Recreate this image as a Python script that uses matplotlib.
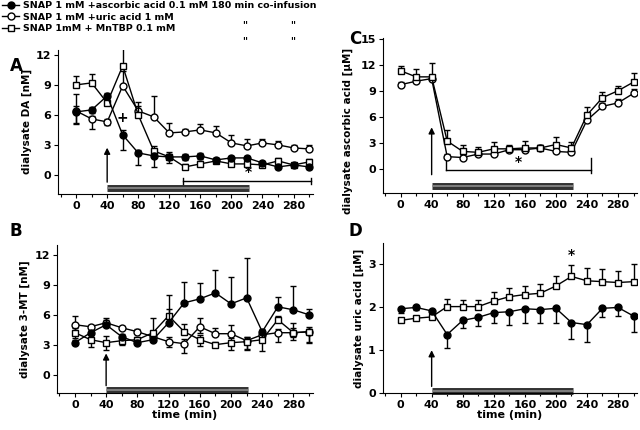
import matplotlib
matplotlib.use('Agg')
import matplotlib.pyplot as plt
import numpy as np

plt.rcParams['font.family'] = ['DejaVu Sans']
plt.rcParams['font.weight'] = 'bold'

t = [0, 20, 40, 60, 80, 100, 120, 140, 160, 180, 200, 220, 240, 260, 280, 300]
labels = ['SNAP 1 mM +ascorbic acid 0.1 mM 180 min co-infusion',
          'SNAP 1 mM +uric acid 1 mM',
          'SNAP 1mM + MnTBP 0.1 mM']

# panel A: dialysate DA [nM]
a_asc = [6.3, 6.5, 7.9, 4.0, 2.2, 1.9, 1.8, 1.8, 1.9, 1.5, 1.7, 1.7, 1.2, 0.8, 1.0, 0.8]
a_asc_up = [1.8, 0.3, 0.3, 0.5, 0.3, 0.3, 0.3, 0.3, 0.3, 0.2, 0.2, 0.2, 0.2, 0.2, 0.2, 0.2]
a_asc_dn = [1.2, 0.3, 0.3, 1.5, 1.2, 1.1, 0.6, 0.3, 0.3, 0.2, 0.2, 0.2, 0.2, 0.2, 0.2, 0.2]
a_uric = [6.4, 5.6, 5.3, 8.9, 6.4, 5.8, 4.2, 4.3, 4.5, 4.2, 3.2, 2.9, 3.2, 3.0, 2.7, 2.6]
a_uric_up = [0.5, 0.3, 0.3, 1.5, 0.5, 2.1, 1.0, 0.3, 0.6, 0.7, 0.8, 0.7, 0.4, 0.4, 0.3, 0.4]
a_uric_dn = [1.2, 1.0, 0.3, 0, 0, 0, 0, 0, 0, 0, 0, 0, 0, 0, 0, 0]
a_mn = [9.0, 9.2, 7.2, 10.9, 6.0, 2.4, 1.8, 0.8, 1.1, 1.4, 1.1, 1.1, 1.0, 1.4, 1.0, 1.3]
a_mn_up = [0.9, 0.9, 0.8, 1.9, 1.3, 0.5, 0.5, 0.3, 0.3, 0.3, 0.3, 0.3, 0.2, 0.3, 0.2, 0.3]

# panel B: dialysate 3-MT [nM]
b_asc = [3.2, 4.2, 5.0, 3.8, 3.2, 3.5, 5.2, 7.2, 7.6, 8.2, 7.1, 7.7, 4.3, 6.8, 6.5, 6.0]
b_asc_up = [0.3, 0.3, 0.5, 0.3, 0.3, 0.3, 2.8, 2.1, 1.6, 2.3, 2.7, 4.0, 0.3, 1.0, 2.4, 0.6]
b_uric = [5.0, 4.8, 5.2, 4.7, 4.3, 3.8, 3.3, 3.1, 4.8, 4.1, 4.1, 3.4, 4.0, 4.2, 4.2, 4.3]
b_uric_up = [0.9, 0.2, 0.5, 0.2, 0.3, 0.3, 0.5, 0.5, 0.9, 0.6, 0.9, 0.4, 0.3, 0.4, 1.0, 0.3]
b_uric_dn = [0, 0, 0, 0, 0, 0, 0.5, 0.9, 0.6, 0, 0, 0.8, 0, 0.9, 0.7, 1.0]
b_mn = [4.2, 3.5, 3.2, 3.4, 3.5, 4.2, 5.9, 4.3, 3.5, 3.0, 3.2, 3.3, 3.5, 5.5, 4.2, 4.3]
b_mn_up = [0.5, 0.3, 0.7, 0.3, 0.3, 1.5, 0.7, 0.8, 0.5, 0.3, 0.5, 0.5, 0.6, 0.4, 0.5, 0.5]
b_mn_dn = [0.5, 0.7, 0.7, 0.4, 0.3, 0.3, 0, 0, 0.6, 0.2, 0.7, 0.8, 1.1, 0, 0.4, 1.1]

# panel C: dialysate ascorbic acid [uM]
c_uric = [9.7, 10.1, 10.4, 1.4, 1.3, 1.7, 1.7, 2.2, 2.2, 2.4, 2.0, 1.9, 5.6, 7.2, 7.6, 8.7]
c_uric_up = [0.3, 0.3, 0.3, 0.3, 0.3, 0.3, 0.3, 0.3, 0.3, 0.3, 0.3, 0.3, 0.5, 0.4, 0.5, 0.5]
c_mn = [11.3, 10.6, 10.6, 3.2, 2.0, 1.9, 2.3, 2.3, 2.4, 2.4, 2.8, 2.4, 6.2, 8.2, 9.0, 10.0]
c_mn_up = [0.5, 0.9, 1.6, 1.3, 0.8, 0.6, 0.8, 0.4, 0.8, 0.4, 0.9, 0.7, 0.9, 0.7, 0.5, 1.0]

# panel D: dialysate uric acid [uM]
d_asc = [1.97, 2.0, 1.92, 1.37, 1.7, 1.77, 1.88, 1.9, 1.97, 1.95, 1.98, 1.65, 1.6, 1.98, 2.0, 1.8]
d_asc_dn = [0.1, 0.05, 0.05, 0.32, 0.18, 0.2, 0.25, 0.3, 0.32, 0.3, 0.33, 0.38, 0.4, 0.2, 0.2, 0.37]
d_mn = [1.7, 1.75, 1.78, 2.02, 2.02, 2.02, 2.15, 2.25, 2.3, 2.33, 2.5, 2.72, 2.62, 2.6, 2.58, 2.6]
d_mn_up = [0.05, 0.05, 0.15, 0.18, 0.15, 0.15, 0.2, 0.2, 0.2, 0.22, 0.22, 0.27, 0.3, 0.3, 0.27, 0.4]

zero = [0] * len(t)
styles = {'asc': dict(marker='o', mfc='black'),
          'uric': dict(marker='o', mfc='white'),
          'mn': dict(marker='s', mfc='white')}


def series(ax, y, kind, up=zero, dn=zero, z=3):
    st = styles[kind]
    ax.errorbar(t, y, yerr=[dn, up], fmt='none', ecolor='black', elinewidth=1,
                capsize=2.2, capthick=1, zorder=z)
    line, = ax.plot(t, y, color='black', lw=1, marker=st['marker'], ms=5,
                    mfc=st['mfc'], mec='black', mew=1, zorder=z + 0.5)
    return line


def frame(ax, ylim, yticks, ylabel):
    ax.set_xlim(-23, 305)
    ax.set_ylim(*ylim)
    ax.set_yticks(yticks)
    ax.set_xticks(range(0, 281, 40))
    ax.set_xticks(range(-20, 301, 20), minor=True)
    for s in ['top', 'right']:
        ax.spines[s].set_visible(False)
    ax.tick_params(labelsize=8, length=3, width=0.8, pad=2)
    ax.tick_params(which='minor', length=2, width=0.8)
    ax.set_ylabel(ylabel, fontsize=7.5, fontweight='bold', labelpad=3)
    for lab in ax.get_xticklabels() + ax.get_yticklabels():
        lab.set_fontweight('bold')


def infusion(ax, y_bar, y_arrow_top, y_arrow_bot):
    ax.plot([40, 222], [y_bar, y_bar], color='0.2', lw=5, solid_capstyle='butt', clip_on=False, zorder=2)
    ax.plot([40, 222], [y_bar, y_bar], color='0.55', lw=1.2, solid_capstyle='butt', clip_on=False, zorder=2)
    ax.annotate('', xy=(40, y_arrow_top), xytext=(40, y_arrow_bot),
                arrowprops=dict(arrowstyle='-|>', color='black', lw=1, mutation_scale=9),
                annotation_clip=False)


fig = plt.figure(figsize=(6.4, 4.3), dpi=100)
axA = fig.add_axes([0.091, 0.549, 0.398, 0.335])
axB = fig.add_axes([0.089, 0.085, 0.400, 0.345])
axC = fig.add_axes([0.598, 0.551, 0.398, 0.361])
axD = fig.add_axes([0.598, 0.085, 0.398, 0.350])

# A
frame(axA, (-1.9, 12.5), [0, 3, 6, 9, 12], 'dialysate DA [nM]')
h1 = series(axA, a_asc, 'asc', a_asc_up, a_asc_dn, z=5)
h2 = series(axA, a_uric, 'uric', a_uric_up, a_uric_dn, z=3)
h3 = series(axA, a_mn, 'mn', a_mn_up, z=4)
infusion(axA, -1.3, 3.0, -1.0)
axA.plot([138, 302], [-0.6, -0.6], color='black', lw=1)
axA.plot([138, 138], [-0.9, -0.3], color='black', lw=1)
axA.plot([302, 302], [-0.9, -0.3], color='black', lw=1)
axA.text(222, -0.4, '*', ha='center', va='bottom', fontsize=10, fontweight='bold')
axA.text(60, 5.0, '+', ha='center', va='bottom', fontsize=10, fontweight='bold')

# B
frame(axB, (-1.9, 13.0), [0, 3, 6, 9, 12], 'dialysate 3-MT [nM]')
series(axB, b_asc, 'asc', b_asc_up, z=5)
series(axB, b_uric, 'uric', b_uric_up, b_uric_dn, z=3)
series(axB, b_mn, 'mn', b_mn_up, b_mn_dn, z=4)
infusion(axB, -1.55, 2.4, -1.4)
axB.set_xlabel('time (min)', fontsize=8, fontweight='bold', labelpad=0)

# C
frame(axC, (-2.8, 15.1), [0, 3, 6, 9, 12, 15], 'dialysate ascorbic acid [\u03bcM]')
axC.yaxis.set_label_coords(-0.115, 0.40)
series(axC, c_uric, 'uric', c_uric_up, z=3)
series(axC, c_mn, 'mn', c_mn_up, z=4)
infusion(axC, -2.0, 5.1, -1.0)
axC.plot([58, 245], [-0.1, -0.1], color='black', lw=1)
axC.plot([58, 58], [-0.1, 1.3], color='black', lw=1)
axC.plot([245, 245], [-0.5, 1.3], color='black', lw=1)
axC.text(152, 0.0, '*', ha='center', va='bottom', fontsize=10, fontweight='bold')

# D
frame(axD, (0, 3.5), [0, 1, 2, 3], 'dialysate uric acid [\u03bcM]')
series(axD, d_asc, 'asc', zero, d_asc_dn, z=4)
series(axD, d_mn, 'mn', d_mn_up, z=3)
infusion(axD, 0.05, 1.07, 0.1)
axD.text(220, 3.05, '*', ha='center', va='bottom', fontsize=10, fontweight='bold')
axD.set_xlabel('time (min)', fontsize=8, fontweight='bold', labelpad=0)

# panel letters
fig.text(0.015, 0.835, 'A', fontsize=12, fontweight='bold')
fig.text(0.015, 0.450, 'B', fontsize=12, fontweight='bold')
fig.text(0.545, 0.898, 'C', fontsize=12, fontweight='bold')
fig.text(0.545, 0.450, 'D', fontsize=12, fontweight='bold')

# legend
fig.legend([h1, h2, h3], labels, loc='upper left', bbox_to_anchor=(-0.005, 1.01),
           frameon=False, handlelength=1.8, handletextpad=0.4, labelspacing=0.25,
           prop=dict(size=6.8, weight='bold'), borderaxespad=0.2)
for y in (0.935, 0.898):
    fig.text(0.383, y, '"', fontsize=7, fontweight='bold', ha='center')
    fig.text(0.458, y, '"', fontsize=7, fontweight='bold', ha='center')

fig.savefig('out.png', dpi=100)
